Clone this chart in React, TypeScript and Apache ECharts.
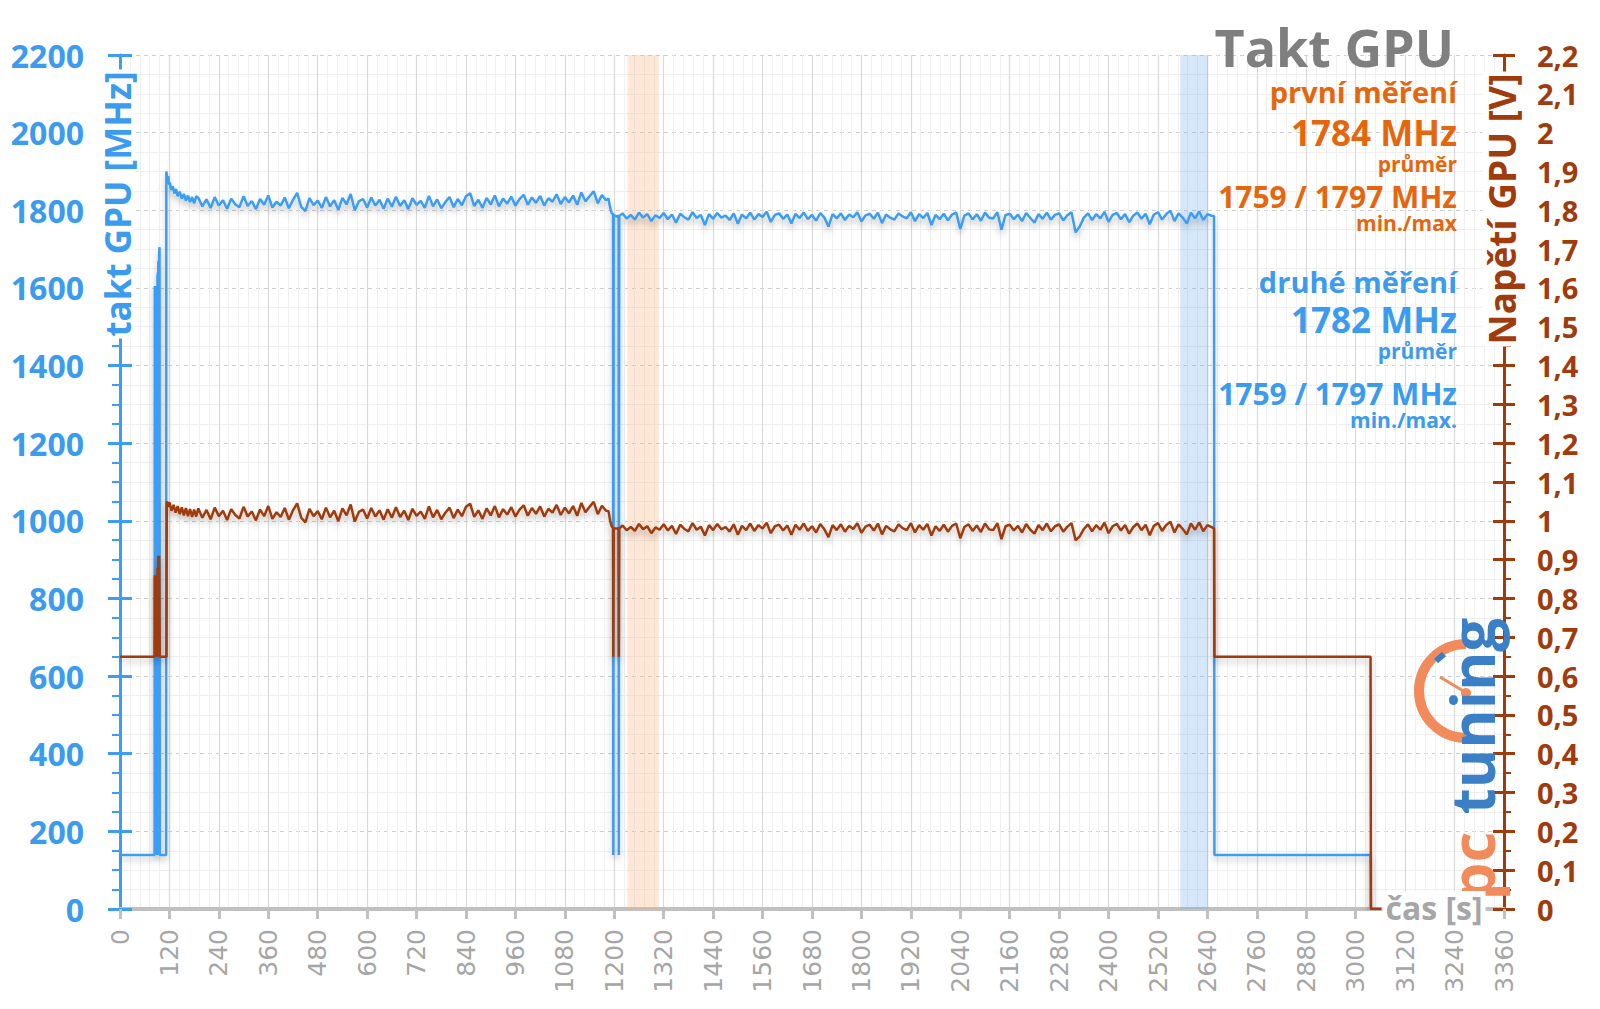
import React, { useEffect, useRef } from "react";
import * as echarts from "echarts";

// ---------- DATA ----------
const SAMPLE_STEP = 10; // seconds between samples in the steady runs

// GPU clock [MHz] — start-up section (time, value)
const clockIntro: [number, number][] = [
  [0, 139], [84, 139], [84.5, 1605], [85.5, 1605], [86, 139], [86.5, 1605], [87.5, 1605], [88, 139],
  [88.5, 1605], [90, 1605], [90.5, 139], [91, 1630], [92, 1640], [92.5, 139], [93, 1665], [94, 1670],
  [94.5, 139], [95, 1690], [96, 1705], [96.5, 139], [112, 139],
  [112.5, 1900], [115, 1880], [117, 1888], [119, 1866], [121, 1872], [124, 1852], [128, 1862],
  [132, 1843], [136, 1855], [140, 1836], [145, 1848], [150, 1830], [155, 1842], [160, 1825],
  [165, 1838], [170, 1821], [175, 1834], [180, 1818], [185, 1836],
];
const clockRun1Start = 190;
const clockRun1: number[] = [
  1832, 1810, 1828, 1806, 1834, 1812, 1826, 1804, 1830, 1815,
  1808, 1836, 1811, 1824, 1803, 1829, 1814, 1838, 1807, 1822,
  1812, 1833, 1805, 1827, 1845, 1809, 1798, 1831, 1813, 1825,
  1806, 1834, 1810, 1826, 1801, 1832, 1815, 1842, 1800, 1823,
  1829, 1807, 1833, 1812, 1827, 1804, 1830, 1809, 1835, 1811,
  1826, 1803, 1831, 1814, 1824, 1806, 1837, 1810, 1828, 1805,
  1821, 1834, 1808, 1829, 1813, 1836, 1844, 1811, 1827, 1806,
  1832, 1815, 1838, 1810, 1830, 1817, 1835, 1812, 1829, 1840,
  1814, 1833, 1819, 1837, 1812, 1831, 1822, 1841, 1816, 1834,
  1820, 1838, 1814, 1846, 1823, 1836, 1849, 1818, 1839, 1826,
];
const clockBreak: [number, number][] = [
  [1186, 1830], [1190, 1806], [1194, 1792], [1197, 1790], [1197.5, 139], [1198, 139], [1198.5, 1788],
  [1205, 1784], [1210.5, 1786], [1211, 139], [1211.5, 139], [1212, 1785],
];
const clockRun2Start = 1220;
const clockRun2: number[] = [
  1792, 1779, 1788, 1776, 1794, 1781, 1790, 1772, 1787, 1780,
  1793, 1777, 1789, 1768, 1791, 1782, 1776, 1795, 1780, 1788,
  1762, 1790, 1778, 1793, 1781, 1786, 1775, 1792, 1765, 1789,
  1779, 1794, 1776, 1790, 1783, 1796, 1770, 1788, 1792, 1778,
  1789, 1766, 1791, 1780, 1794, 1777, 1788, 1773, 1793, 1781,
  1758, 1790, 1779, 1792, 1775, 1789, 1782, 1795, 1771, 1787,
  1791, 1778, 1794, 1767, 1789, 1781, 1776, 1792, 1784, 1779,
  1795, 1772, 1790, 1780, 1793, 1762, 1788, 1777, 1791, 1774,
  1789, 1794, 1752, 1786, 1792, 1776, 1790, 1773, 1794, 1781,
  1779, 1795, 1750, 1788, 1791, 1777, 1789, 1772, 1793, 1780,
  1768, 1790, 1778, 1794, 1776, 1788, 1792, 1774, 1787, 1795,
  1743, 1758, 1781, 1792, 1775, 1790, 1779, 1796, 1770, 1788,
  1793, 1777, 1790, 1769, 1786, 1794, 1778, 1791, 1764, 1789,
  1795, 1776, 1790, 1799, 1772, 1792, 1781, 1766, 1794, 1779,
  1797, 1775, 1790, 1786,
];
const clockOutro: [number, number][] = [[2656, 1785], [2657, 139], [3036, 139], [3037, 0], [3062, 0]];

// GPU voltage [V]
const voltIntro: [number, number][] = [
  [0, 0.65], [84, 0.65], [84.5, 0.86], [85.5, 0.86], [86, 0.65], [86.5, 0.86], [87.5, 0.86], [88, 0.65],
  [88.5, 0.86], [90, 0.86], [90.5, 0.65], [91, 0.88], [92, 0.88], [92.5, 0.65], [93, 0.91], [94, 0.91],
  [94.5, 0.65], [95, 0.91], [96, 0.91], [96.5, 0.65], [113, 0.65],
  [113.5, 1.05], [117, 1.036], [120, 1.048], [125, 1.026], [130, 1.041], [135, 1.021], [140, 1.038],
  [145, 1.017], [150, 1.035], [155, 1.014], [160, 1.033], [165, 1.012], [170, 1.03], [175, 1.01],
  [180, 1.029], [185, 1.011],
];
const voltRun1Start = 190;
const voltRun1: number[] = [
  1.032, 1.008, 1.028, 1.004, 1.034, 1.012, 1.026, 1.002, 1.03, 1.015,
  1.006, 1.036, 1.011, 1.024, 1.001, 1.029, 1.012, 1.038, 1.005, 1.022,
  1.01, 1.033, 1.003, 1.027, 1.045, 1.008, 0.996, 1.031, 1.012, 1.025,
  1.004, 1.034, 1.009, 1.026, 0.999, 1.032, 1.014, 1.042, 0.998, 1.023,
  1.029, 1.006, 1.033, 1.011, 1.027, 1.003, 1.03, 1.008, 1.035, 1.01,
  1.026, 1.002, 1.031, 1.013, 1.024, 1.005, 1.037, 1.009, 1.028, 1.004,
  1.021, 1.034, 1.007, 1.029, 1.012, 1.036, 1.044, 1.01, 1.027, 1.005,
  1.032, 1.014, 1.038, 1.009, 1.03, 1.016, 1.035, 1.011, 1.029, 1.04,
  1.013, 1.033, 1.018, 1.037, 1.011, 1.031, 1.021, 1.041, 1.015, 1.034,
  1.019, 1.038, 1.013, 1.046, 1.022, 1.036, 1.049, 1.017, 1.039, 1.026,
];
const voltBreak: [number, number][] = [
  [1186, 1.025], [1190, 1.0], [1194, 0.985], [1197, 0.982], [1197.5, 0.65], [1198, 0.65], [1198.5, 0.98],
  [1210.5, 0.98], [1211, 0.65], [1211.5, 0.65], [1212, 0.98],
];
const voltRun2Start = 1220;
const voltRun2: number[] = [
  0.988, 0.976, 0.984, 0.974, 0.992, 0.978, 0.986, 0.968, 0.983, 0.977,
  0.991, 0.975, 0.987, 0.966, 0.99, 0.979, 0.973, 0.994, 0.977, 0.985,
  0.962, 0.989, 0.976, 0.992, 0.978, 0.984, 0.972, 0.991, 0.964, 0.987,
  0.976, 0.993, 0.974, 0.989, 0.98, 0.995, 0.968, 0.986, 0.99, 0.975,
  0.988, 0.964, 0.99, 0.977, 0.993, 0.974, 0.986, 0.97, 0.992, 0.978,
  0.958, 0.989, 0.976, 0.991, 0.972, 0.987, 0.979, 0.994, 0.969, 0.985,
  0.99, 0.975, 0.993, 0.965, 0.987, 0.978, 0.973, 0.991, 0.981, 0.976,
  0.994, 0.97, 0.989, 0.977, 0.992, 0.962, 0.986, 0.974, 0.99, 0.972,
  0.987, 0.993, 0.955, 0.984, 0.991, 0.974, 0.988, 0.971, 0.993, 0.978,
  0.976, 0.994, 0.953, 0.986, 0.99, 0.975, 0.987, 0.97, 0.992, 0.977,
  0.967, 0.989, 0.976, 0.993, 0.973, 0.986, 0.991, 0.972, 0.985, 0.994,
  0.95, 0.96, 0.979, 0.991, 0.973, 0.989, 0.977, 0.995, 0.968, 0.986,
  0.992, 0.975, 0.989, 0.967, 0.984, 0.993, 0.976, 0.99, 0.963, 0.987,
  0.994, 0.974, 0.989, 0.998, 0.97, 0.991, 0.979, 0.965, 0.993, 0.977,
  0.996, 0.973, 0.989, 0.984,
];
const voltOutro: [number, number][] = [[2656, 0.98], [2657, 0.65], [3036, 0.65], [3037, 0], [3062, 0]];

// highlighted time windows [s]
const bandOrange: [number, number] = [1232, 1308];
const bandBlue: [number, number] = [2574, 2642];

// axis ranges
const timeMax = 3360;
const timeStep = 120;
const clockMax = 2200;
const clockStep = 200;
const voltMax = 2.2;
const voltStep = 0.1;

// texts
const chartTitle = "Takt GPU";
const firstRun = ["první měření", "1784 MHz", "průměr", "1759 / 1797 MHz", "min./max"];
const secondRun = ["druhé měření", "1782 MHz", "průměr", "1759 / 1797 MHz", "min./max."];
const clockAxisName = "takt GPU [MHz]";
const voltAxisName = "Napětí GPU [V]";
const timeAxisName = "čas [s]";

// ---------- helpers ----------
function build(
  intro: [number, number][],
  s1: number,
  r1: number[],
  brk: [number, number][],
  s2: number,
  r2: number[],
  outro: [number, number][]
): [number, number][] {
  return [
    ...intro,
    ...r1.map((v, i) => [s1 + i * SAMPLE_STEP, v] as [number, number]),
    ...brk,
    ...r2.map((v, i) => [s2 + i * SAMPLE_STEP, v] as [number, number]),
    ...outro,
  ];
}

const BLUE = "#3d9cf3";
const BLUE_TEXT = "#3b9bef";
const BROWN = "#9f3b0c";
const ORANGE = "#e5660d";
const GRAY_TITLE = "#7f7f7f";
const FONT = '"Open Sans", "Noto Sans", sans-serif';

export default function App() {
  const ref = useRef<HTMLDivElement>(null);

  useEffect(() => {
    document.body.style.margin = "0";
    const chart = echarts.init(ref.current!, null, { renderer: "svg" });

    const clockData = build(clockIntro, clockRun1Start, clockRun1, clockBreak, clockRun2Start, clockRun2, clockOutro);
    const voltData = build(voltIntro, voltRun1Start, voltRun1, voltBreak, voltRun2Start, voltRun2, voltOutro);

    const txt = (text: string, x: number, y: number, size: number, color: string) => ({
      type: "text",
      x,
      y,
      z: 100,
      style: {
        text,
        fill: color,
        font: `bold ${size}px ${FONT}`,
        lineHeight: Math.round(size * 1.05),
        align: "right",
        verticalAlign: "middle",
      },
    });

    const rightX = 1457;

    const lineShadow = {
      shadowColor: "rgba(0,0,0,0.25)",
      shadowBlur: 6,
      shadowOffsetY: 4,
    };

    const option: any = {
      animation: false,
      backgroundColor: "#ffffff",
      grid: { left: 120, right: 96, top: 55, bottom: 100, containLabel: false },
      xAxis: {
        type: "value",
        min: 0,
        max: timeMax,
        interval: timeStep,
        axisLine: { show: true, lineStyle: { color: "#c0c0c0", width: 4 } },
        axisTick: { show: true, length: 10, lineStyle: { color: "#c0c0c0", width: 3 } },
        axisLabel: {
          rotate: 90,
          color: "#a6a6a6",
          fontFamily: "DejaVu Sans",
          fontSize: 25,
          margin: 20,
          formatter: (v: number) => String(v),
        },
        splitLine: { show: true, lineStyle: { color: "#dadada", width: 1.2 } },
        minorTick: { show: false, splitNumber: 5 },
        minorSplitLine: { show: true, lineStyle: { color: "#f0f0f0", width: 1 } },
      },
      yAxis: [
        {
          type: "value",
          position: "left",
          min: 0,
          max: clockMax,
          interval: clockStep,
          axisLine: { show: true, lineStyle: { color: BLUE, width: 3 } },
          axisTick: { show: true, length: 12, lineStyle: { color: BLUE, width: 3 } },
          minorTick: { show: true, splitNumber: 4, length: 8, lineStyle: { color: BLUE, width: 2 } },
          axisLabel: {
            color: BLUE_TEXT,
            fontFamily: FONT,
            fontWeight: "bold",
            fontSize: 32,
            margin: 36,
            formatter: (v: number) => String(v),
          },
          splitLine: { show: true, lineStyle: { color: "#cfcfcf", width: 1, type: [4, 4] } },
          minorSplitLine: { show: true, lineStyle: { color: "#efefef", width: 1 } },
        },
        {
          type: "value",
          position: "right",
          min: 0,
          max: voltMax,
          interval: voltStep,
          axisLine: { show: true, lineStyle: { color: BROWN, width: 3 } },
          axisTick: { show: true, length: 11, lineStyle: { color: BROWN, width: 3 } },
          minorTick: { show: true, splitNumber: 2, length: 7, lineStyle: { color: BROWN, width: 2 } },
          axisLabel: {
            color: BROWN,
            fontFamily: FONT,
            fontWeight: "bold",
            fontSize: 29,
            margin: 33,
            formatter: (v: number) => String(Math.round(v * 10) / 10).replace(".", ","),
          },
          splitLine: { show: false },
        },
        {
          type: "value",
          position: "left",
          min: 0,
          max: clockMax,
          interval: clockStep,
          axisLine: { show: false },
          axisTick: { show: true, inside: true, length: 12, lineStyle: { color: BLUE, width: 3 } },
          axisLabel: { show: false },
          splitLine: { show: false },
        },
        {
          type: "value",
          position: "right",
          min: 0,
          max: voltMax,
          interval: voltStep,
          axisLine: { show: false },
          axisTick: { show: true, inside: true, length: 11, lineStyle: { color: BROWN, width: 3 } },
          axisLabel: { show: false },
          splitLine: { show: false },
        },
      ],
      series: [
        {
          name: "takt",
          type: "line",
          yAxisIndex: 0,
          showSymbol: false,
          symbol: "none",
          data: clockData,
          z: 3,
          lineStyle: { color: BLUE, width: 2.5, ...lineShadow },
          markArea: {
            silent: true,
            data: [
              [{ xAxis: bandOrange[0], itemStyle: { color: "rgba(247,176,120,0.3)" } }, { xAxis: bandOrange[1] }],
              [{ xAxis: bandBlue[0], itemStyle: { color: "rgba(110,170,238,0.28)" } }, { xAxis: bandBlue[1] }],
            ],
          },
        },
        {
          name: "napeti",
          type: "line",
          yAxisIndex: 1,
          showSymbol: false,
          symbol: "none",
          data: voltData,
          z: 4,
          lineStyle: { color: BROWN, width: 2.5, ...lineShadow },
        },
      ],
      graphic: [
        // logo
        {
          type: "arc",
          z: 50,
          shape: { cx: 1466, cy: 691, r: 47, startAngle: Math.PI / 2, endAngle: (3 * Math.PI) / 2, clockwise: true },
          style: { stroke: "#f28b5b", lineWidth: 10, fill: null },
        },
        { type: "line", z: 50, shape: { x1: 1440, y1: 677, x2: 1465, y2: 692 }, style: { stroke: "#f28b5b", lineWidth: 3 } },
        { type: "circle", z: 50, shape: { cx: 1466, cy: 693, r: 5 }, style: { fill: "#f28b5b" } },
        { type: "line", z: 51, shape: { x1: 1436, y1: 661, x2: 1444, y2: 654 }, style: { stroke: "#3a7fc6", lineWidth: 6 } },
        {
          type: "text",
          z: 50,
          x: 1472,
          y: 716,
          rotation: Math.PI / 2,
          style: { text: "tuning", fill: "#3b7fc7", font: `bold 60px ${FONT}`, align: "center", verticalAlign: "middle" },
        },
        {
          type: "text",
          z: 50,
          x: 1472,
          y: 866,
          rotation: Math.PI / 2,
          style: { text: "pc", fill: "#f28b5b", font: `bold 60px ${FONT}`, align: "center", verticalAlign: "middle" },
        },
        // axis names
        {
          type: "text",
          z: 100,
          x: 117,
          y: 204,
          rotation: Math.PI / 2,
          style: {
            text: clockAxisName,
            fill: BLUE_TEXT,
            font: `bold 35px ${FONT}`,
            align: "center",
            verticalAlign: "middle",
            backgroundColor: "#ffffff",
            padding: [0, 2],
          },
        },
        {
          type: "text",
          z: 100,
          x: 1501,
          y: 209,
          rotation: Math.PI / 2,
          style: {
            text: voltAxisName,
            fill: BROWN,
            font: `bold 37px ${FONT}`,
            align: "center",
            verticalAlign: "middle",
            backgroundColor: "#ffffff",
            padding: [0, 2],
          },
        },
        {
          type: "text",
          z: 100,
          x: 1434,
          y: 907,
          style: {
            text: timeAxisName,
            fill: "#a6a6a6",
            font: `bold 32px ${FONT}`,
            align: "center",
            verticalAlign: "middle",
            backgroundColor: "#ffffff",
            padding: [0, 3],
          },
        },
        // title and summaries
        txt(chartTitle, 1454, 46, 52, GRAY_TITLE),
        txt(firstRun[0], rightX, 91, 29, ORANGE),
        txt(firstRun[1], rightX, 132, 35, ORANGE),
        txt(firstRun[2], rightX, 164, 21, ORANGE),
        txt(firstRun[3], rightX, 196, 30, ORANGE),
        txt(firstRun[4], rightX, 223, 21, ORANGE),
        txt(secondRun[0], rightX, 281, 29, BLUE_TEXT),
        txt(secondRun[1], rightX, 319, 35, BLUE_TEXT),
        txt(secondRun[2], rightX, 351, 21, BLUE_TEXT),
        txt(secondRun[3], rightX, 393, 30, BLUE_TEXT),
        txt(secondRun[4], rightX, 420, 21, BLUE_TEXT),
      ],
    };

    chart.setOption(option);
    return () => chart.dispose();
  }, []);

  return <div ref={ref} style={{ width: 1600, height: 1009 }} />;
}
